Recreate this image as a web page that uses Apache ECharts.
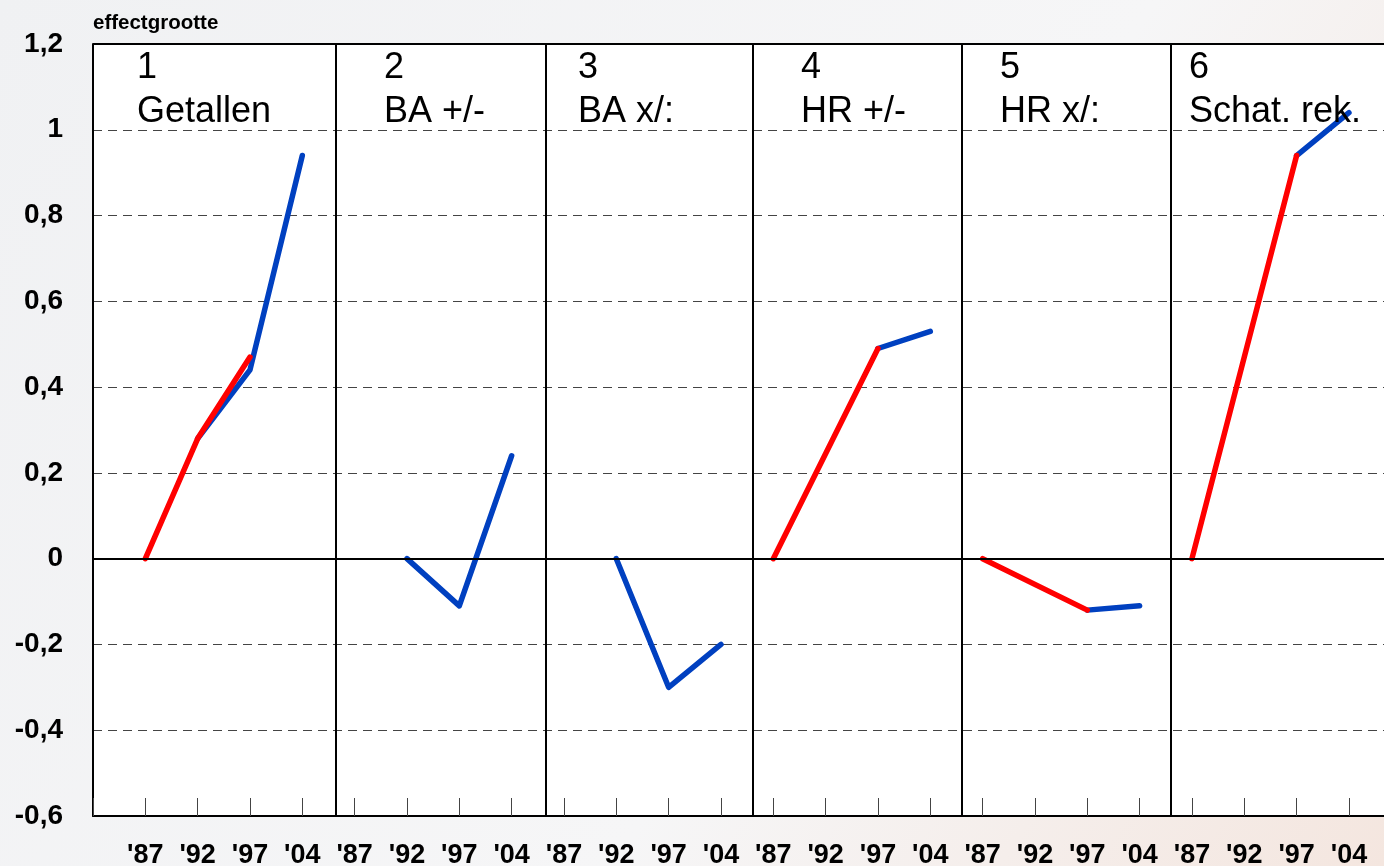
<!DOCTYPE html>
<html>
<head>
<meta charset="utf-8">
<script src="https://cdn.jsdelivr.net/npm/echarts@6/dist/echarts.min.js"></script>
<style>
html,body{margin:0;padding:0;background:#f1f2f4;}
#chart{width:1384px;height:866px;}
</style>
</head>
<body>
<div id="chart"></div>
<script>
// ---- data ----
const yearLabels = ["'87", "'92", "'97", "'04"];
const panelTitles = ['1\nGetallen', '2\nBA +/-', '3\nBA x/:', '4\nHR +/-', '5\nHR x/:', '6\nSchat. rek.'];
// red segments per panel (values at '87, '92, '97, '04; null = no point)
const redP1 = [0, 0.28, 0.47, null];
const redP2 = [null, null, null, null];
const redP3 = [null, null, null, null];
const redP4 = [0, null, 0.49, null];
const redP5 = [0, null, -0.12, null];
const redP6 = [0, null, 0.94, null];
// blue segments per panel
const blueP1 = [null, 0.28, 0.44, 0.94];
const blueP2 = [null, 0, -0.11, 0.24];
const blueP3 = [null, 0, -0.30, -0.20];
const blueP4 = [null, null, 0.49, 0.53];
const blueP5 = [null, null, -0.12, -0.11];
const blueP6 = [null, null, 0.94, 1.04];
const yTicks = [-0.6, -0.4, -0.2, 0, 0.2, 0.4, 0.6, 0.8, 1, 1.2];
const panelEdges = [3.63, 7.65, 11.61, 15.6, 19.59];

const redSets = [redP1, redP2, redP3, redP4, redP5, redP6];
const blueSets = [blueP1, blueP2, blueP3, blueP4, blueP5, blueP6];
const nYears = yearLabels.length;

function toPoints(vals, p) {
  const out = [];
  vals.forEach((v, i) => { if (v !== null) out.push([p * nYears + i, v]); });
  return out;
}

const RED = '#ff0000';
const BLUE = '#0040c0';
const series = [];

// structural lines (panel dividers, top border, zero line)
series.push({
  type: 'line', data: [], silent: true,
  markLine: {
    silent: true, symbol: 'none', animation: false,
    label: { show: false },
    lineStyle: { color: '#000', width: 2, type: 'solid' },
    data: panelEdges.map(x => ({ xAxis: x }))
      .concat([{ yAxis: yTicks[yTicks.length - 1] }, { yAxis: 0 }])
  }
});

blueSets.forEach((vals, p) => {
  series.push({
    type: 'line', data: toPoints(vals, p), symbol: 'none', animation: false,
    lineStyle: { color: BLUE, width: 5.5, cap: 'round', join: 'round' }, z: 3
  });
});
redSets.forEach((vals, p) => {
  series.push({
    type: 'line', data: toPoints(vals, p), symbol: 'none', animation: false,
    lineStyle: { color: RED, width: 5.5, cap: 'round', join: 'round' }, z: 4
  });
});

const titleLefts = [137, 384, 578, 801, 1000, 1189];
const titles = panelTitles.map((t, i) => ({
  text: t, left: titleLefts[i], top: 46, padding: 0,
  textStyle: { fontFamily: 'Liberation Sans, Arial, sans-serif', fontSize: 36, fontWeight: 'normal', color: '#000', lineHeight: 44 }
}));
titles.push({
  text: 'effectgrootte', left: 93, top: 13, padding: 0,
  textStyle: { fontFamily: 'Liberation Sans, Arial, sans-serif', fontSize: 20.5, fontWeight: 'bold', color: '#000' }
});

const chart = echarts.init(document.getElementById('chart'), null, { renderer: 'canvas' });
chart.setOption({
  backgroundColor: {
    type: 'linear', x: 0, y: 0, x2: 1, y2: 1,
    colorStops: [{ offset: 0, color: '#f0f1f3' }, { offset: 0.6, color: '#f6f6f7' }, { offset: 1, color: '#f4e6df' }]
  },
  animation: false,
  title: titles,
  grid: {
    left: 93, right: 0, top: 44, bottom: 50, containLabel: false, outerBoundsMode: 'none',
    show: true, backgroundColor: '#ffffff', borderWidth: 0
  },
  xAxis: {
    type: 'value', min: -1, max: 23.67, interval: 1,
    axisLine: { show: true, onZero: false, lineStyle: { color: '#000', width: 2 } },
    axisTick: { show: true, inside: true, length: 18, lineStyle: { color: '#444', width: 1 } },
    splitLine: { show: false },
    axisLabel: {
      margin: 26, color: '#000', fontSize: 27, fontWeight: 'bold',
      fontFamily: 'Liberation Sans, Arial, sans-serif',
      formatter: v => {
        const r = Math.round(v);
        if (Math.abs(v - r) > 1e-6 || r < 0) return '';
        return yearLabels[r % nYears];
      }
    }
  },
  yAxis: {
    type: 'value', min: yTicks[0], max: yTicks[yTicks.length - 1], interval: 0.2,
    axisLine: { show: true, onZero: false, lineStyle: { color: '#000', width: 2 } },
    axisTick: { show: false },
    splitLine: { show: true, lineStyle: { color: '#444', width: 1, type: [9, 6] } },
    axisLabel: {
      margin: 30, color: '#000', fontSize: 28, fontWeight: 'bold',
      fontFamily: 'Liberation Sans, Arial, sans-serif',
      formatter: v => String(Number(v.toFixed(1))).replace('.', ',')
    }
  },
  series: series
});
</script>
</body>
</html>
